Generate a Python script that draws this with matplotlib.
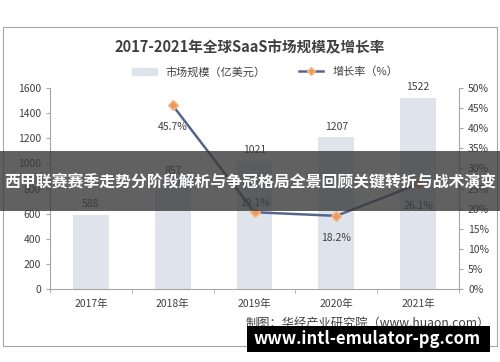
import numpy as np
import matplotlib.pyplot as plt
from matplotlib.patches import Rectangle
from matplotlib.lines import Line2D

plt.rcParams['font.family'] = ['Noto Sans CJK SC', 'DejaVu Sans']

years = ['2017年', '2018年', '2019年', '2020年', '2021年']
market = [588, 857, 1021, 1207, 1522]
growth_years = [1, 2, 3, 4]
growth = [45.7, 19.1, 18.2, 26.1]

fig = plt.figure(figsize=(5, 3.62), dpi=100)
ax = fig.add_axes([0.1, 0.2017, 0.818, 0.555])

# outer frame
fig.patches.append(Rectangle((0.006, 0.044), 0.988, 0.882, transform=fig.transFigure,
                             fill=False, edgecolor='#a6a6a6', lw=0.8))

x = np.arange(len(years))
bar_color = '#dfe3ec'
ax.bar(x, market, width=0.44, color=bar_color, zorder=1)
for xi, v in zip(x, market):
    ax.text(xi, v + 45, str(v), ha='center', va='bottom', fontsize=7.5, color='#404040')

ax.set_xlim(-0.5, 4.5)
ax.set_ylim(0, 1600)
ax.set_yticks(range(0, 1601, 200))
ax.set_xticks(x)
ax.set_xticklabels(years, fontsize=7.5, color='#404040')
ax.set_xticks(np.arange(-0.5, 4.6, 1), minor=True)
ax.tick_params(axis='x', which='major', length=0, pad=7)
ax.tick_params(axis='x', which='minor', length=3, color='#a6a6a6')
ax.tick_params(axis='y', labelsize=7.5, labelcolor='#404040', color='#a6a6a6', length=3)
for s in ['top', 'right']:
    ax.spines[s].set_visible(False)
ax.spines['left'].set_color('#a6a6a6')
ax.spines['bottom'].set_color('#a6a6a6')

ax2 = ax.twinx()
ax2.set_ylim(0, 50)
ax2.set_yticks(range(0, 51, 5))
ax2.set_yticklabels([f'{t}%' for t in range(0, 51, 5)])
ax2.tick_params(axis='y', labelsize=7.5, labelcolor='#404040', color='#a6a6a6', length=3)
for s in ['top', 'left', 'bottom']:
    ax2.spines[s].set_visible(False)
ax2.spines['right'].set_color('#a6a6a6')
ax2.plot(growth_years, growth, color='#56658a', lw=1.8, marker='D', markersize=5,
         markerfacecolor='#ed9a5a', markeredgecolor='#f2b98a', zorder=3)

offsets = [(-0.0, -5.5), (0, 2.2), (0, -5.5), (0, -5.5)]
for xi, g, (dx, dy) in zip(growth_years, growth, offsets):
    ax2.text(xi + dx, g + dy, f'{g}%', ha='center', va='center', fontsize=7.5, color='#404040')

fig.text(0.5, 1 - 47 / 362, '2017-2021年全球SaaS市场规模及增长率', ha='center', va='center',
         fontsize=10.5, fontweight='bold', color='#404040')

handles = [Rectangle((0, 0), 1, 1, color=bar_color),
           Line2D([0], [0], color='#56658a', lw=1.8, marker='D', markersize=4,
                  markerfacecolor='#ed9a5a', markeredgecolor='#f2b98a')]
fig.legend(handles, ['市场规模（亿美元）', '增长率（%）'], loc='center',
           bbox_to_anchor=(0.53, 1 - 72 / 362), ncol=2, frameon=False, fontsize=8,
           handlelength=2.2, columnspacing=3, labelcolor='#404040')

fig.text(0.98, 1 - 323 / 362, '制图：华经产业研究院（www.huaon.com）', ha='right', va='center',
         fontsize=8.8, color='#404040')

# overlay banners
fig.text(0.5, 1 - 181 / 362, '西甲联赛赛季走势分阶段解析与争冠格局全景回顾关键转折与战术演变',
         ha='center', va='center', fontsize=11.4, fontweight='bold', color='white', zorder=10)
fig.patches.append(Rectangle((0, 1 - 211 / 362), 1, 60 / 362, transform=fig.transFigure,
                             facecolor='#3a3a3a', alpha=0.8, zorder=9))
fig.patches.append(Rectangle((247 / 500, 1 - 352 / 362), 243 / 500, 26 / 362,
                             transform=fig.transFigure, facecolor='black', zorder=9))
fig.text(0.735, 1 - 339 / 362, 'www.intl-emulator-pg.com', ha='center', va='center',
         fontsize=12, fontweight='bold', color='white', zorder=10)

fig.savefig('out.png', dpi=100)
